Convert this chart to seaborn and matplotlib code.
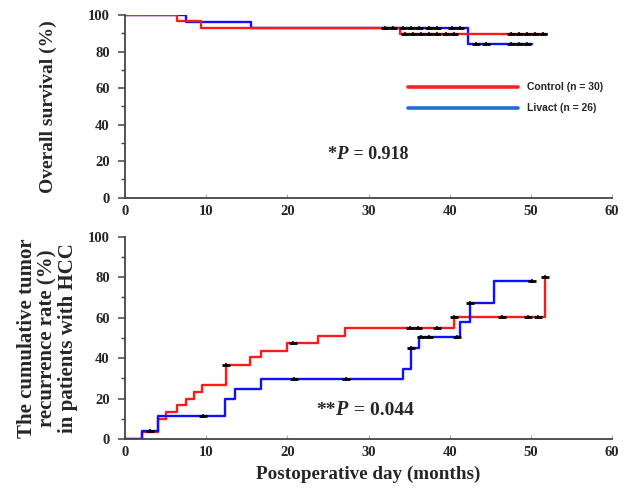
import matplotlib
matplotlib.use("Agg")
import matplotlib.pyplot as plt
import seaborn as sns
from matplotlib.lines import Line2D

# ---------------- data ----------------
# Overall survival (%)
os_ctrl_t = [0, 6.4, 9.4, 33.9, 52.0]
os_ctrl_v = [100, 96.7, 93.0, 89.6, 89.6]
os_liv_t = [0, 7.5, 15.5, 42.2, 50.1]
os_liv_v = [100, 96.2, 93.0, 84.0, 84.0]
os_ctrl_cens_t = [34.5, 35.5, 36.5, 37.5, 38.5, 39.5, 40.5, 47.5, 48.5, 49.5, 50.5, 51.5]
os_ctrl_cens_v = [89.6] * 12
os_liv_cens_t = [32.0, 33.0, 34.2, 35.2, 36.2, 37.5, 38.5, 40.3, 41.3, 43.2, 44.5, 47.5, 48.5, 49.5]
os_liv_cens_v = [93.0] * 9 + [84.0] * 5

# Cumulative recurrence (%)
rec_ctrl_t = [0, 2.1, 4.1, 5.0, 6.4, 7.5, 8.5, 9.5, 12.5, 15.4, 16.8, 19.9, 23.8, 27.1, 40.5, 51.8]
rec_ctrl_v = [0, 3.3, 10.0, 13.3, 16.7, 20.0, 23.3, 26.7, 36.7, 40.4, 43.7, 47.3, 50.9, 54.9, 60.5, 80.2]
rec_liv_t = [0, 2.1, 4.1, 12.3, 13.5, 16.8, 34.2, 35.2, 36.2, 41.3, 42.5, 45.5, 50.1]
rec_liv_v = [0, 3.8, 11.5, 19.8, 24.7, 29.7, 34.6, 44.8, 50.3, 58.0, 67.1, 78.1, 78.1]
rec_ctrl_cens_t = [12.5, 20.7, 35.1, 36.1, 38.4, 40.5, 46.5, 49.7, 50.9, 51.8]
rec_ctrl_cens_v = [36.7, 47.3, 54.9, 54.9, 54.9, 60.5, 60.5, 60.5, 60.5, 80.2]
rec_liv_cens_t = [3.1, 9.6, 20.8, 27.2, 35.2, 36.5, 37.5, 40.9, 42.5, 50.1]
rec_liv_cens_v = [3.8, 11.5, 29.7, 29.7, 44.8, 50.3, 50.3, 50.3, 67.1, 78.1]

groups = ["Control (n = 30)", "Livact (n = 26)"]
x_ticks = [0, 10, 20, 30, 40, 50, 60]
y_ticks = [0, 20, 40, 60, 80, 100]

RED = "#ff1a1a"
BLUE = "#1010ff"
LEG_RED = "#ff2020"
LEG_BLUE = "#2070d0"

sns.set_style("white")
plt.rcParams["font.family"] = ["Liberation Serif", "DejaVu Serif"]

fig = plt.figure(figsize=(6.44, 4.90), dpi=100)
ax1 = fig.add_axes([125 / 644, 1 - 197.7 / 490, (612 - 125) / 644, (197.7 - 15) / 490])
ax2 = fig.add_axes([125 / 644, 1 - 439 / 490, (612 - 125) / 644, (439 - 236.7) / 490])


def draw(ax, t1, v1, t2, v2, c1t, c1v, c2t, c2v, red_on_top):
    z_red, z_blue = (3.2, 3.0) if red_on_top else (3.0, 3.2)
    sns.lineplot(x=t1, y=v1, ax=ax, color=RED, lw=1.7, drawstyle="steps-post",
                 estimator=None, sort=False, zorder=z_red)
    sns.lineplot(x=t2, y=v2, ax=ax, color=BLUE, lw=1.7, drawstyle="steps-post",
                 estimator=None, sort=False, zorder=z_blue)
    for ct, cv in ((c1t, c1v), (c2t, c2v)):
        sns.scatterplot(x=ct, y=cv, ax=ax, marker="_", s=32, color="black",
                        linewidth=2.0, zorder=4)
        sns.scatterplot(x=ct, y=cv, ax=ax, marker="|", s=9, color="black",
                        linewidth=1.1, zorder=4)


draw(ax1, os_ctrl_t, os_ctrl_v, os_liv_t, os_liv_v,
     os_ctrl_cens_t, os_ctrl_cens_v, os_liv_cens_t, os_liv_cens_v, True)
draw(ax2, rec_ctrl_t, rec_ctrl_v, rec_liv_t, rec_liv_v,
     rec_ctrl_cens_t, rec_ctrl_cens_v, rec_liv_cens_t, rec_liv_cens_v, False)

for ax in (ax1, ax2):
    ax.set_xlim(0, 60)
    ax.set_ylim(0, 100)
    ax.set_xticks(x_ticks)
    ax.set_yticks(y_ticks)
    ax.set_yticks([10, 30, 50, 70, 90], minor=True)
    ax.set_xticklabels([str(v) for v in x_ticks], fontsize=10.5, fontweight="bold")
    ax.set_yticklabels([str(v) for v in y_ticks], fontsize=10.5, fontweight="bold")
    for s in ("top", "right"):
        ax.spines[s].set_visible(False)
    for s in ("left", "bottom"):
        ax.spines[s].set_color("#444444")
        ax.spines[s].set_linewidth(1.3)
        ax.spines[s].set_zorder(5)
    ax.tick_params(axis="y", which="major", direction="out", length=5, width=1.1,
                   color="#444444", left=True, pad=6)
    ax.tick_params(axis="y", which="minor", direction="out", length=3, width=1.0,
                   color="#444444", left=True)
    ax.tick_params(axis="x", which="major", direction="in", length=3, width=0.8,
                   color="#aaaaaa", bottom=True, pad=5)
    ax.set_xlabel("")
    ax.set_ylabel("")

ax1.set_ylabel("Overall survival (%)", fontsize=14, fontweight="bold", labelpad=22)
ax2.set_ylabel("The cumulative tumor\nrecurrence rate (%)\nin patients with HCC",
               fontsize=15, fontweight="bold", labelpad=7, linespacing=1.05)
ax2.set_xlabel("Postoperative day (months)", fontsize=13.8, fontweight="bold", labelpad=5)

# p-values
ax1.text(26.0, 23.5, "*", fontsize=13, fontweight="bold", ha="right", va="center")
ax1.text(26.0, 23.5, "P", fontsize=13.5, fontweight="bold", fontstyle="italic",
         ha="left", va="center")
ax1.text(27.6, 23.5, " = 0.918", fontsize=13, fontweight="bold", ha="left", va="center")

ax2.text(25.9, 14.3, "**", fontsize=14, fontweight="bold", ha="right", va="center")
ax2.text(25.9, 14.3, "P", fontsize=14.5, fontweight="bold", fontstyle="italic",
         ha="left", va="center")
ax2.text(27.6, 14.3, " = 0.044", fontsize=14, fontweight="bold", ha="left", va="center")

# legend
handles = [Line2D([0], [0], color=LEG_RED, lw=2.6), Line2D([0], [0], color=LEG_BLUE, lw=2.6)]
leg = ax1.legend(handles, groups, loc="upper left", bbox_to_anchor=(0.573, 0.654),
                 frameon=False, handlelength=10.5, handletextpad=0.9, labelspacing=1.05,
                 borderaxespad=0, prop={"family": "Liberation Sans", "weight": "bold", "size": 7.5})

fig.savefig("out.png", dpi=100)
